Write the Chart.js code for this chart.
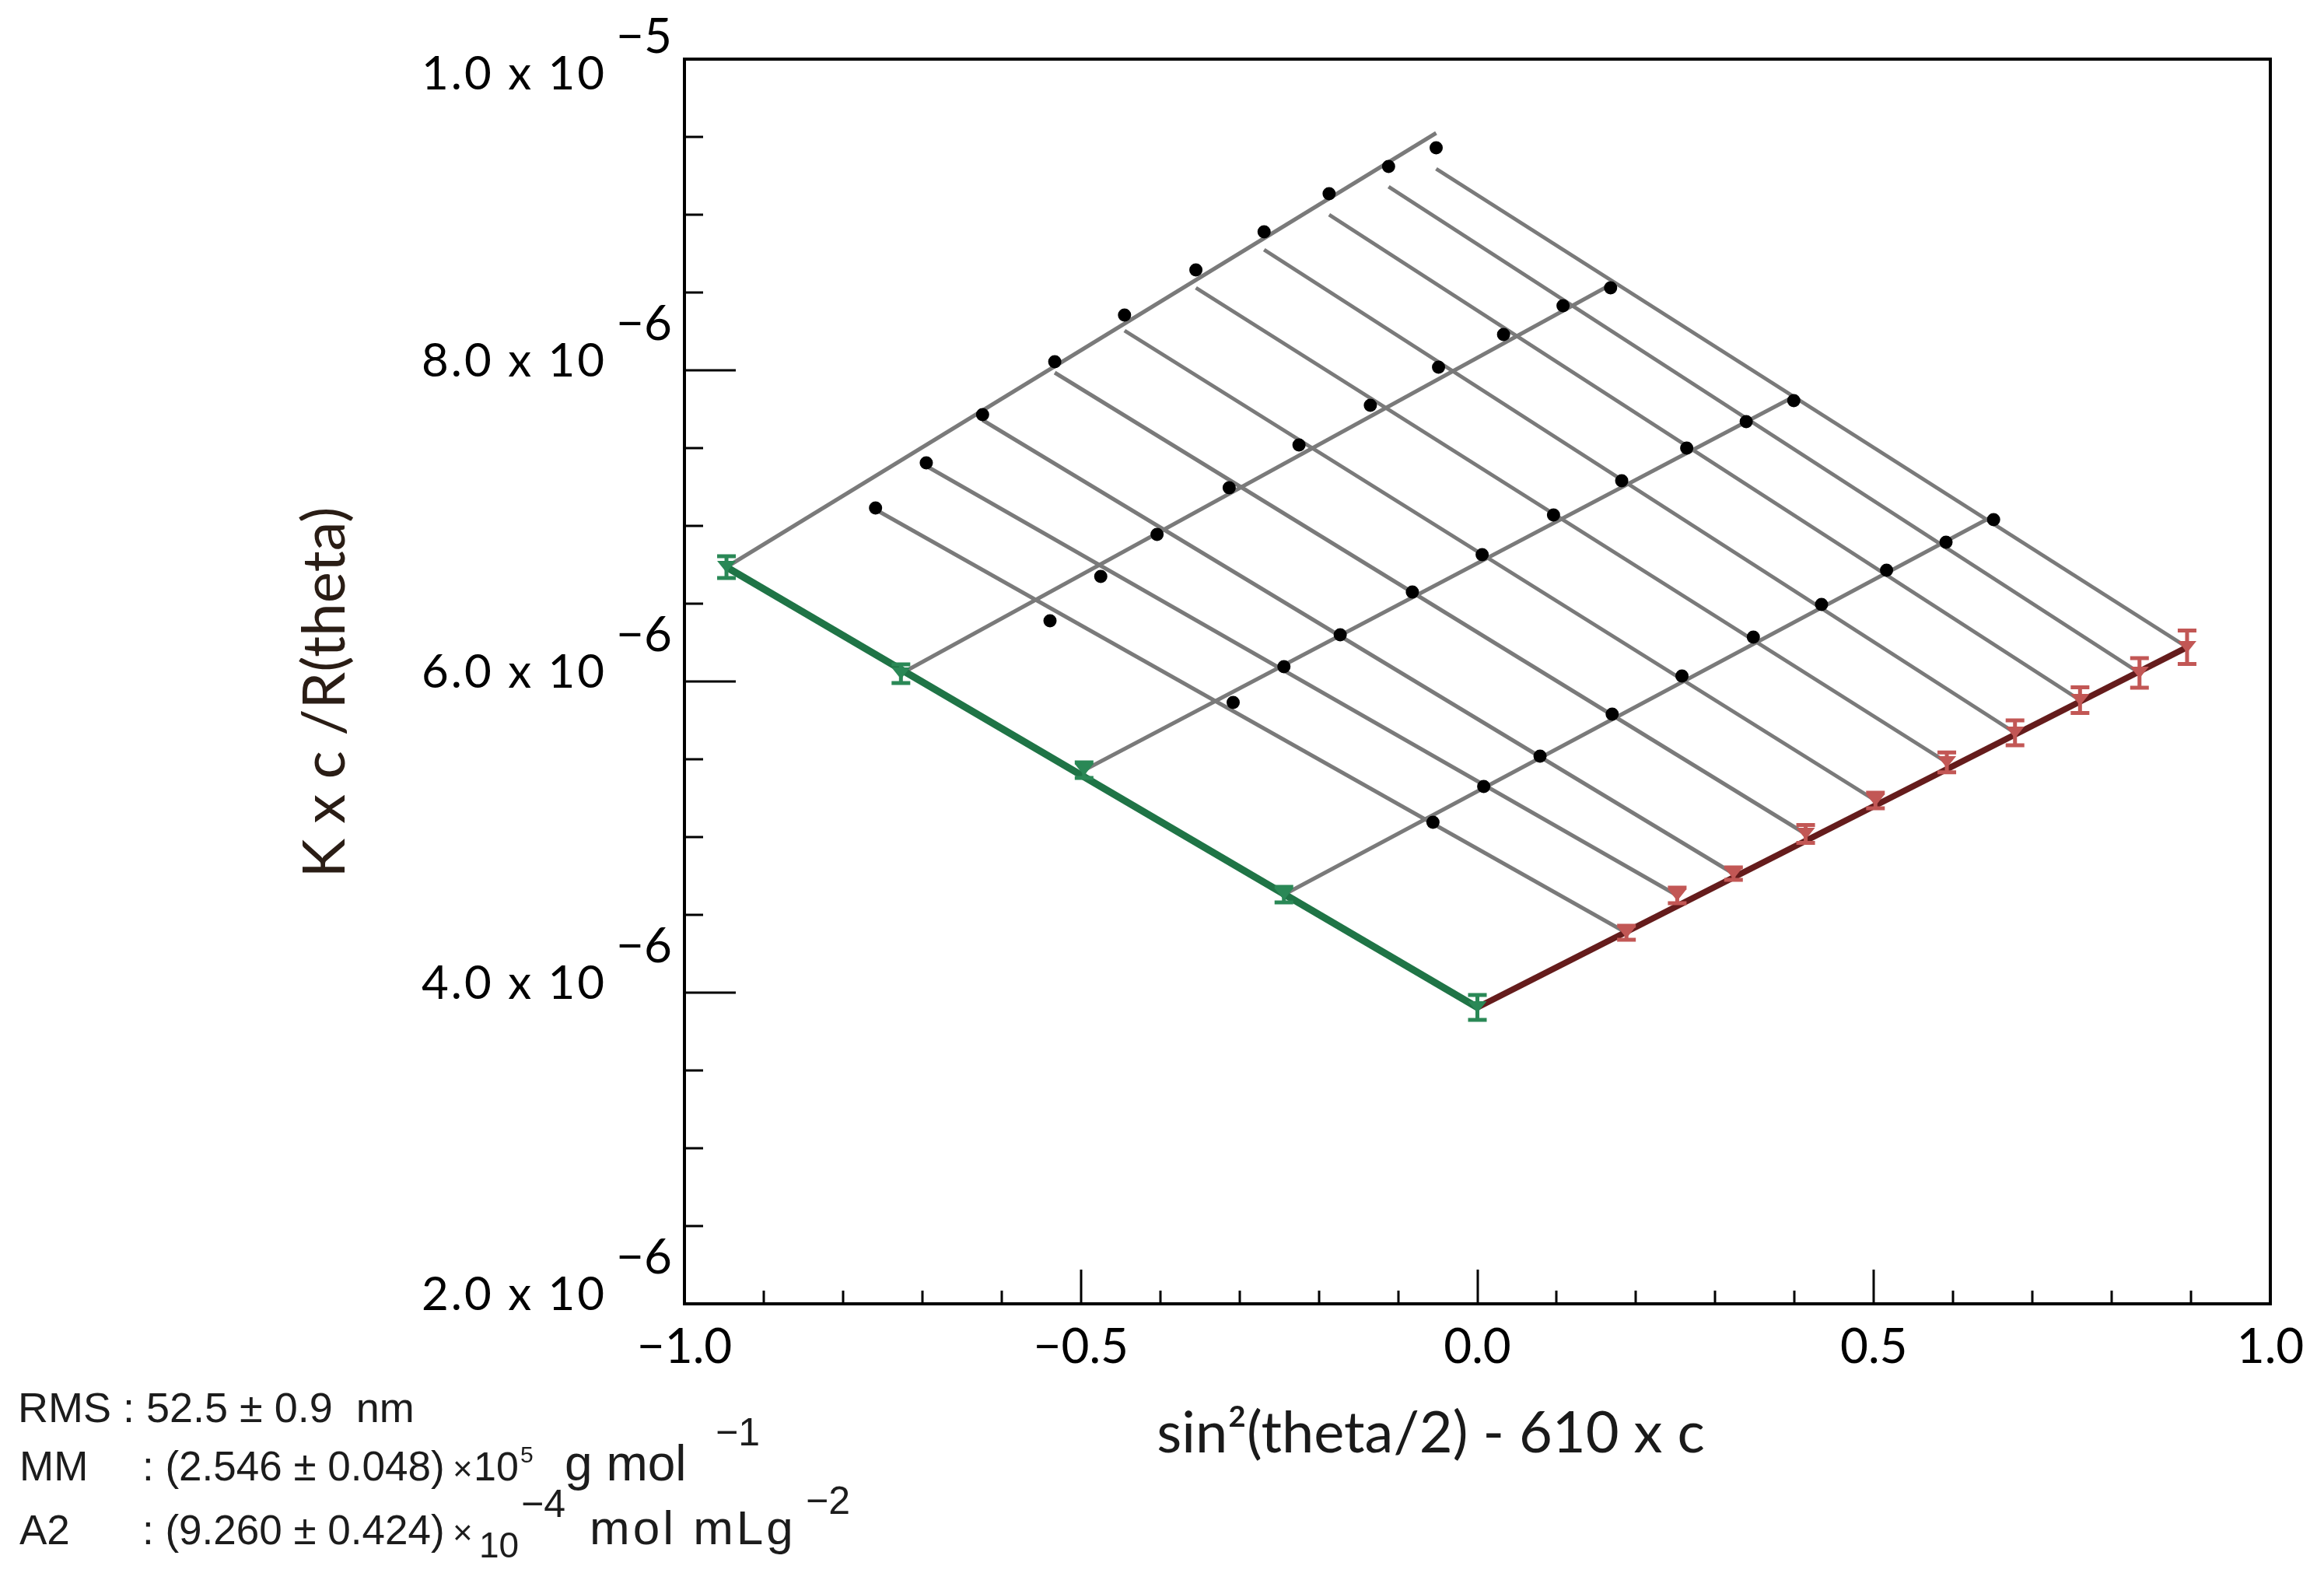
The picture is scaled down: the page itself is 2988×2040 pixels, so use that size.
<!DOCTYPE html>
<html>
<head>
<meta charset="utf-8">
<script src="https://cdn.jsdelivr.net/npm/chart.js@4.4.1/dist/chart.umd.min.js"></script>
<style>
  html, body { margin: 0; padding: 0; background: #fff; }
  #wrap { position: relative; width: 2988px; height: 2040px; overflow: hidden; background: #fff; }
  #c { position: absolute; left: 0; top: 0; }
  .t { position: absolute; white-space: pre; font-family: "Liberation Sans", Arial, sans-serif; color: #1c1c1c; line-height: 1; }
</style>
</head>
<body>
<div id="wrap">
  <canvas id="c" width="2988" height="2040"></canvas>
  <div id="stats"></div>
</div>
<script>
// ---------------- data ----------------
// sin^2(theta/2) for the 10 detector angles
const sinSqHalfTheta = [0.188, 0.252, 0.323, 0.414, 0.502, 0.592, 0.678, 0.760, 0.835, 0.895];
// -610 x c for the 4 concentrations (lowest to highest)
const concOffset = [-0.244, -0.496, -0.727, -0.947];

// measured Kc/R(theta) for each concentration, one value per angle
const kcR_conc1 = [5.095e-6, 5.325e-6, 5.52e-6, 5.79e-6, 6.035e-6, 6.285e-6, 6.495e-6, 6.715e-6, 6.895e-6, 7.04e-6];
const kcR_conc2 = [5.865e-6, 6.095e-6, 6.30e-6, 6.575e-6, 6.815e-6, 7.07e-6, 7.29e-6, 7.50e-6, 7.67e-6, 7.805e-6];
const kcR_conc3 = [6.39e-6, 6.675e-6, 6.945e-6, 7.245e-6, 7.52e-6, 7.775e-6, 8.02e-6, 8.23e-6, 8.415e-6, 8.53e-6];
const kcR_conc4 = [7.115e-6, 7.405e-6, 7.715e-6, 8.055e-6, 8.355e-6, 8.645e-6, 8.89e-6, 9.135e-6, 9.31e-6, 9.43e-6];

// c -> 0 extrapolated points (red), one per angle, with error bars
const zeroConcY   = [4.385e-6, 4.625e-6, 4.765e-6, 5.02e-6, 5.235e-6, 5.48e-6, 5.67e-6, 5.88e-6, 6.055e-6, 6.22e-6];
const zeroConcErr = [0.045e-6, 0.05e-6, 0.04e-6, 0.057e-6, 0.05e-6, 0.064e-6, 0.08e-6, 0.083e-6, 0.095e-6, 0.107e-6];
// straight c -> 0 fit line: value at the origin and at the largest angle
const zeroConcFitY = [3.905e-6, 6.22e-6];

// theta -> 0 extrapolated points (green): origin, then the 4 concentrations
const zeroAngleX   = [0.0, -0.244, -0.496, -0.727, -0.947];
const zeroAngleY   = [3.905e-6, 4.63e-6, 5.43e-6, 6.05e-6, 6.735e-6];
const zeroAngleErr = [0.08e-6, 0.05e-6, 0.05e-6, 0.06e-6, 0.07e-6];

// fitted grid lines: constant-angle fits evaluated at the highest concentration
const angleFitTopY = [7.105e-6, 7.385e-6, 7.68e-6, 7.985e-6, 8.255e-6, 8.53e-6, 8.775e-6, 9.00e-6, 9.18e-6, 9.295e-6];
// constant-concentration fits evaluated at the largest angle
const concFitEndY = [7.065e-6, 7.83e-6, 8.55e-6, 9.525e-6];

// axis ticks and texts
const xTickValues = [-1.0, -0.5, 0.0, 0.5, 1.0];
const xTickLabels = ['\u22121.0', '\u22120.5', '0.0', '0.5', '1.0'];
const yTickValues = [1.0e-5, 8.0e-6, 6.0e-6, 4.0e-6, 2.0e-6];
const yTickMantissa = ['1.0 x 10', '8.0 x 10', '6.0 x 10', '4.0 x 10', '2.0 x 10'];
const yTickExponent = ['\u22125', '\u22126', '\u22126', '\u22126', '\u22126'];
const xTitle = 'sin\u00B2(theta/2) - 610 x c';
const yTitle = 'K x c /R(theta)';

// ---------------- build datasets ----------------
const measured = [kcR_conc1, kcR_conc2, kcR_conc3, kcR_conc4];
const lastAngle = sinSqHalfTheta[sinSqHalfTheta.length - 1];
const datasets = [];

// theta -> 0 fit line (green)
datasets.push({
  label: 'theta -> 0 fit', order: 0,
  data: [{ x: zeroAngleX[0], y: zeroAngleY[0] }, { x: zeroAngleX[4], y: zeroAngleY[4] }],
  borderColor: '#1f7446', borderWidth: 9, pointRadius: 0, showLine: true
});
// c -> 0 fit line (red)
datasets.push({
  label: 'c -> 0 fit', order: 0,
  data: [{ x: 0, y: zeroConcFitY[0] }, { x: lastAngle, y: zeroConcFitY[1] }],
  borderColor: '#651c1c', borderWidth: 8, pointRadius: 0, showLine: true
});
datasets.push({
  label: 'theta -> 0', order: 0,
  data: zeroAngleX.map((x, i) => ({ x, y: zeroAngleY[i] })),
  errors: zeroAngleErr, errorColor: '#2a8856',
  showLine: false, pointRadius: 0
});
datasets.push({
  label: 'c -> 0', order: 0,
  data: sinSqHalfTheta.map((x, j) => ({ x, y: zeroConcY[j] })),
  errors: zeroConcErr, errorColor: '#c25755',
  showLine: false, pointRadius: 0
});
measured.forEach((row, i) => {
  datasets.push({
    label: 'conc ' + (i + 1), order: 1,
    data: row.map((y, j) => ({ x: sinSqHalfTheta[j] + concOffset[i], y })),
    showLine: false, pointStyle: 'circle', pointRadius: 8.5,
    pointBackgroundColor: '#000', pointBorderColor: '#000', pointBorderWidth: 0
  });
});
sinSqHalfTheta.forEach((s, j) => {
  datasets.push({
    label: 'angle fit ' + (j + 1), order: 2,
    data: [{ x: s, y: zeroConcY[j] }, { x: s + concOffset[3], y: angleFitTopY[j] }],
    showLine: true, borderColor: '#7a7a7a', borderWidth: 5, pointRadius: 0
  });
});
concOffset.forEach((c, i) => {
  datasets.push({
    label: 'conc fit ' + (i + 1), order: 2,
    data: [{ x: c, y: zeroAngleY[i + 1] }, { x: c + lastAngle, y: concFitEndY[i] }],
    showLine: true, borderColor: '#7a7a7a', borderWidth: 5, pointRadius: 0
  });
});

// ---------------- plugins ----------------
const errorBars = {
  id: 'errorBars',
  afterDatasetsDraw(chart) {
    const { ctx, scales: { x, y } } = chart;
    ctx.save();
    chart.data.datasets.forEach(ds => {
      if (!ds.errors) return;
      ds.data.forEach((p, j) => {
        const e = ds.errors[j];
        if (e == null) return;
        const px = x.getPixelForValue(p.x);
        const y1 = y.getPixelForValue(p.y - e);
        const y2 = y.getPixelForValue(p.y + e);
        const py = y.getPixelForValue(p.y);
        ctx.strokeStyle = ds.errorColor;
        ctx.fillStyle = ds.errorColor;
        ctx.lineWidth = 5;
        ctx.beginPath();
        ctx.moveTo(px, y1); ctx.lineTo(px, y2);
        ctx.moveTo(px - 12, y1); ctx.lineTo(px + 12, y1);
        ctx.moveTo(px - 12, y2); ctx.lineTo(px + 12, y2);
        ctx.stroke();
        ctx.beginPath();
        ctx.moveTo(px - 12, py - 8); ctx.lineTo(px + 12, py - 8); ctx.lineTo(px, py + 7); ctx.closePath();
        ctx.fill();
      });
    });
    ctx.restore();
  }
};

const frameAndLabels = {
  id: 'frameAndLabels',
  afterDraw(chart) {
    const { ctx, chartArea: a, scales: { x, y } } = chart;
    ctx.save();
    ctx.strokeStyle = '#000';
    ctx.lineWidth = 4;
    ctx.strokeRect(a.left, a.top, a.right - a.left, a.bottom - a.top);

    // x ticks: minor every 0.1, major every 0.5 (drawn inward)
    ctx.lineWidth = 3;
    for (let k = 0; k <= 20; k++) {
      const v = x.min + k * 0.1;
      const px = Math.round(x.getPixelForValue(v));
      const len = (k % 5 === 0) ? 44 : 17;
      ctx.beginPath(); ctx.moveTo(px, a.bottom); ctx.lineTo(px, a.bottom - len); ctx.stroke();
    }
    // y ticks: minor every 0.5e-6, major every 2e-6
    for (let k = 0; k <= 16; k++) {
      const v = y.min + k * 0.5e-6;
      const py = Math.round(y.getPixelForValue(v));
      const len = (k % 4 === 0) ? 66 : 24;
      ctx.beginPath(); ctx.moveTo(a.left, py); ctx.lineTo(a.left + len, py); ctx.stroke();
    }

    ctx.fillStyle = '#000';
    ctx.textBaseline = 'alphabetic';
    // x tick labels
    ctx.font = '62px Lato';
    ctx.textAlign = 'center';
    xTickValues.forEach((v, i) => {
      ctx.fillText(xTickLabels[i], x.getPixelForValue(v), a.bottom + 76);
    });

    // y tick labels with exponents
    yTickValues.forEach((v, i) => {
      const py = y.getPixelForValue(v);
      const base = Math.max(py + 8, a.top + 39);
      ctx.font = '60px Lato';
      ctx.letterSpacing = '3px';
      ctx.textAlign = 'right';
      ctx.fillText(yTickMantissa[i], a.left - 100, base);
      ctx.letterSpacing = '0px';
      ctx.font = '62px Lato';
      ctx.textAlign = 'left';
      ctx.fillText(yTickExponent[i], a.left - 88, base - 47);
    });

    // axis titles
    ctx.fillStyle = '#1a1a1a';
    ctx.font = '74px Lato';
    ctx.textAlign = 'center';
    ctx.textBaseline = 'middle';
    ctx.fillText(xTitle, (a.left + a.right) / 2 - 60, 1843);
    ctx.save();
    ctx.translate(418, 890);
    ctx.rotate(-Math.PI / 2);
    ctx.fillStyle = '#2a1d15';
    ctx.font = '76px Lato';
    ctx.fillText(yTitle, 0, 0);
    ctx.restore();
    ctx.restore();
  }
};

function draw() {
  Chart.defaults.font.family = 'Lato';
  new Chart(document.getElementById('c'), {
    type: 'scatter',
    data: { datasets },
    options: {
      responsive: false,
      animation: false,
      devicePixelRatio: 1,
      events: [],
      layout: { padding: { left: 880, right: 69, top: 76, bottom: 364 } },
      plugins: { legend: { display: false }, tooltip: { enabled: false } },
      elements: { line: { tension: 0 } },
      scales: {
        x: {
          type: 'linear', min: -1, max: 1, position: 'bottom',
          afterFit(s) { s.height = 0; },
          grid: { display: false, drawTicks: false },
          border: { display: false },
          ticks: { display: false, stepSize: 0.5 }
        },
        y: {
          type: 'linear', min: 2e-6, max: 1e-5, position: 'left',
          afterFit(s) { s.width = 0; },
          grid: { display: false, drawTicks: false },
          border: { display: false },
          ticks: { display: false, stepSize: 2e-6 }
        }
      }
    },
    plugins: [errorBars, frameAndLabels]
  });

  // statistics block (real HTML text)
  const stats = document.getElementById('stats');
  const put = (txt, left, baseline, size, spacing) => {
    const s = document.createElement('span');
    s.className = 't';
    s.textContent = txt;
    s.style.left = left + 'px';
    s.style.top = (baseline - 0.8465 * size) + 'px';
    s.style.fontSize = size + 'px';
    if (spacing) s.style.letterSpacing = spacing + 'px';
    stats.appendChild(s);
  };
  put('RMS : 52.5 \u00B1 0.9  nm', 23, 1828, 54);
  put('MM', 25, 1903, 53);
  put(': (2.546 \u00B1 0.048)', 183, 1903, 53);
  put('\u00D7', 582, 1903, 44);
  put('10', 609, 1903, 52);
  put('5', 669, 1880, 30);
  put('g mol', 726, 1903, 64);
  put('\u22121', 920, 1858, 50);
  put('A2', 25, 1985, 53);
  put(': (9.260 \u00B1 0.424)', 183, 1985, 53);
  put('\u00D7', 582, 1985, 44);
  put('10', 616, 2002, 46);
  put('\u22124', 670, 1950, 50);
  put('mol mLg', 758, 1985, 62, 4);
  put('\u22122', 1036, 1946, 50);
}

Promise.all([
  document.fonts.load('60px Lato'),
  document.fonts.load('52px "Liberation Sans"')
]).then(draw, draw);
</script>
</body>
</html>
